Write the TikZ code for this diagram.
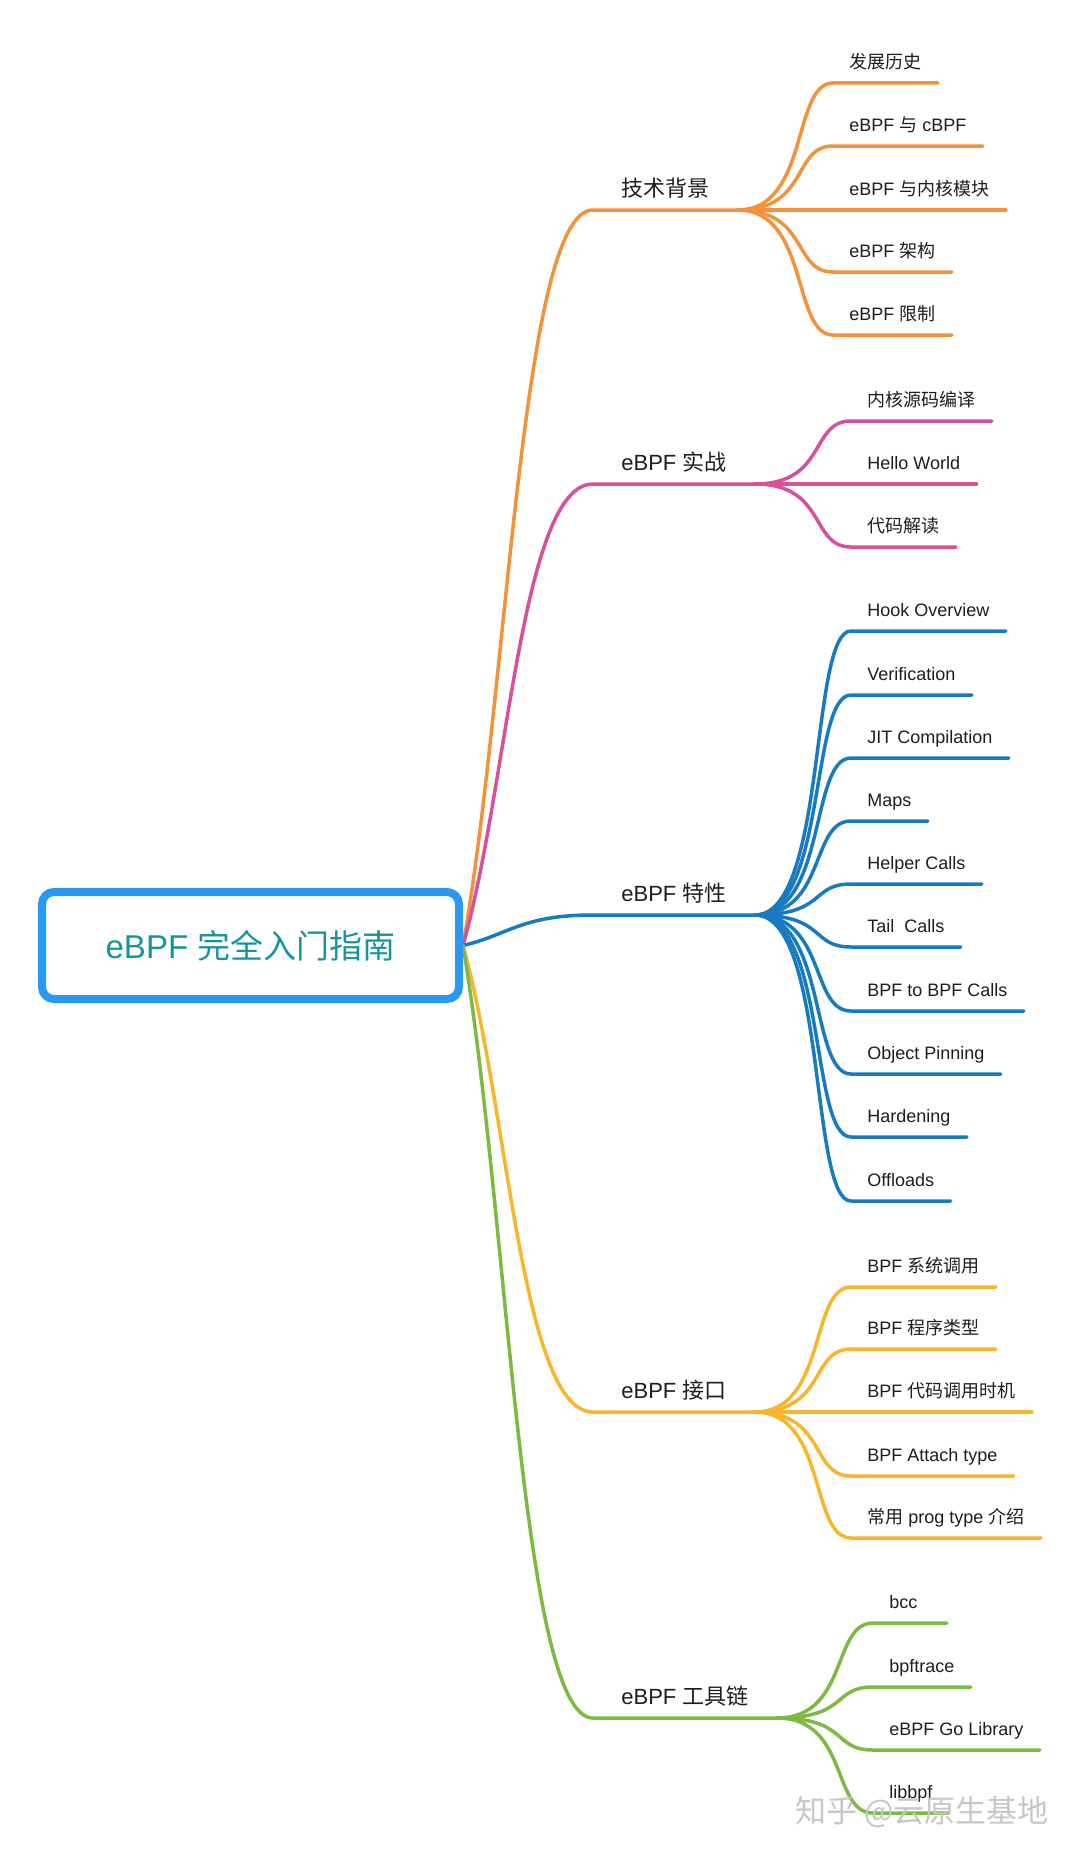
\documentclass[tikz,border=0pt]{standalone}
\usepackage{fontspec}
\setmainfont{Liberation Sans}
\newfontfamily\cjk{Noto Sans CJK SC}
\usetikzlibrary{calc}
\newcommand\zh[1]{{\cjk #1}}
\definecolor{corange}{RGB}{242,146,58}
\definecolor{cpink}{RGB}{214,80,156}
\definecolor{cblue}{RGB}{24,123,192}
\definecolor{cyellow}{RGB}{247,182,45}
\definecolor{cgreen}{RGB}{124,186,67}
\definecolor{rootborder}{RGB}{40,152,240}
\definecolor{roottext}{RGB}{22,148,155}
\definecolor{ink}{RGB}{30,30,30}
\pgfdeclarelayer{bg}
\pgfsetlayers{bg,main}
% #1 style, #2 from, #3 target node, #4 kx1, #5 ky1, #6 kx2
\newcommand\mmlink[6]{%
  \draw[#1] let \p1=(#2), \p2=(#3.south west) in (\p1) .. controls ({\x1+#4*(\x2-\x1)},{\y1+#5*(\y2-\y1)}) and ({\x1+#6*(\x2-\x1)},\y2) .. (\p2) -- (#3.south east);}
\newcommand\mainlink[3]{\mmlink{lk,#1}{#2}{#3}{0.35}{0.35}{0.45}}
\newcommand\sublink[3]{\mmlink{lk,#1}{#2}{#3}{0.75}{0}{0.57}}
\begin{document}
\begin{tikzpicture}[x=0.5pt,y=-0.5pt,
  lk/.style={line width=1.75pt, line cap=round},
  topic/.style={font=\fontsize{11pt}{11pt}\selectfont, text=ink, inner xsep=14pt, inner ysep=0pt, text height=8pt, text depth=6.5pt, anchor=south west},
  leaf/.style={font=\fontsize{9pt}{9pt}\selectfont, text=ink, inner xsep=8pt, inner ysep=0pt, text height=7pt, text depth=7pt, anchor=south west},
  rootbox/.style={draw=rootborder, fill=white, line width=4pt, rounded corners=6pt, minimum width=208.5pt, minimum height=53.5pt, text=roottext, font=\fontsize{16.5pt}{16.5pt}\selectfont, inner sep=0pt}
]
\begin{pgfonlayer}{bg}
\fill[white] (0,0) rectangle (1080,1857);
\end{pgfonlayer}
\useasboundingbox (0,0) rectangle (1080,1857);

\node[rootbox] (root) at (250.5,945.5) {eBPF \zh{完全入门指南}};

% main topics
\node[topic] (t1) at (593,210) {\zh{技术背景}};
\node[topic] (t2) at (593,484) {eBPF \zh{实战}};
\node[topic] (t3) at (593,915) {eBPF \zh{特性}};
\node[topic] (t4) at (593,1412) {eBPF \zh{接口}};
\node[topic] (t5) at (593,1718) {eBPF \zh{工具链}};

% orange children
\node[leaf] (c11) at (833,83) {\zh{发展历史}};
\node[leaf] (c12) at (833,146) {eBPF \zh{与} cBPF};
\node[leaf] (c13) at (833,210) {eBPF \zh{与内核模块}};
\node[leaf] (c14) at (833,272) {eBPF \zh{架构}};
\node[leaf] (c15) at (833,335) {eBPF \zh{限制}};

% pink children
\node[leaf] (c21) at (851,421) {\zh{内核源码编译}};
\node[leaf] (c22) at (851,484) {Hello World};
\node[leaf] (c23) at (851,547) {\zh{代码解读}};

% blue children
\node[leaf] (c31) at (851,631) {Hook Overview};
\node[leaf] (c32) at (851,695) {Verification};
\node[leaf] (c33) at (851,758) {JIT Compilation};
\node[leaf] (c34) at (851,821) {Maps};
\node[leaf] (c35) at (851,884) {Helper Calls};
\node[leaf] (c36) at (851,947) {Tail\ \ Calls};
\node[leaf] (c37) at (851,1011) {BPF to BPF Calls};
\node[leaf] (c38) at (851,1074) {Object Pinning};
\node[leaf] (c39) at (851,1137) {Hardening};
\node[leaf] (c310) at (851,1201) {Offloads};

% yellow children
\node[leaf] (c41) at (851,1287) {BPF \zh{系统调用}};
\node[leaf] (c42) at (851,1349) {BPF \zh{程序类型}};
\node[leaf] (c43) at (851,1412) {BPF \zh{代码调用时机}};
\node[leaf] (c44) at (851,1476) {BPF Attach type};
\node[leaf] (c45) at (851,1538) {\zh{常用} prog type \zh{介绍}};

% green children
\node[leaf] (c51) at (873,1623) {bcc\hspace*{6.5pt}};
\node[leaf] (c52) at (873,1687) {bpftrace};
\node[leaf] (c53) at (873,1750) {eBPF Go Library};
\node[leaf] (c54) at (873,1813) {libbpf};

\begin{pgfonlayer}{bg}
\mainlink{corange}{root.east}{t1}
\mainlink{cpink}{root.east}{t2}
\mainlink{cblue}{root.east}{t3}
\mainlink{cyellow}{root.east}{t4}
\mainlink{cgreen}{root.east}{t5}
\foreach \c in {c11,c12,c13,c14,c15}{\sublink{corange}{t1.south east}{\c}}
\foreach \c in {c21,c22,c23}{\sublink{cpink}{t2.south east}{\c}}
\foreach \c in {c31,c32,c33,c34,c35,c36,c37,c38,c39,c310}{\sublink{cblue}{t3.south east}{\c}}
\foreach \c in {c41,c42,c43,c44,c45}{\sublink{cyellow}{t4.south east}{\c}}
\foreach \c in {c51,c52,c53,c54}{\sublink{cgreen}{t5.south east}{\c}}
\end{pgfonlayer}

% watermark
\node[font={\cjk\fontsize{15.5pt}{15.5pt}\selectfont}, text=black!22] (wm) at (922,1812) {知乎 @云原生基地};
\end{tikzpicture}
\end{document}
